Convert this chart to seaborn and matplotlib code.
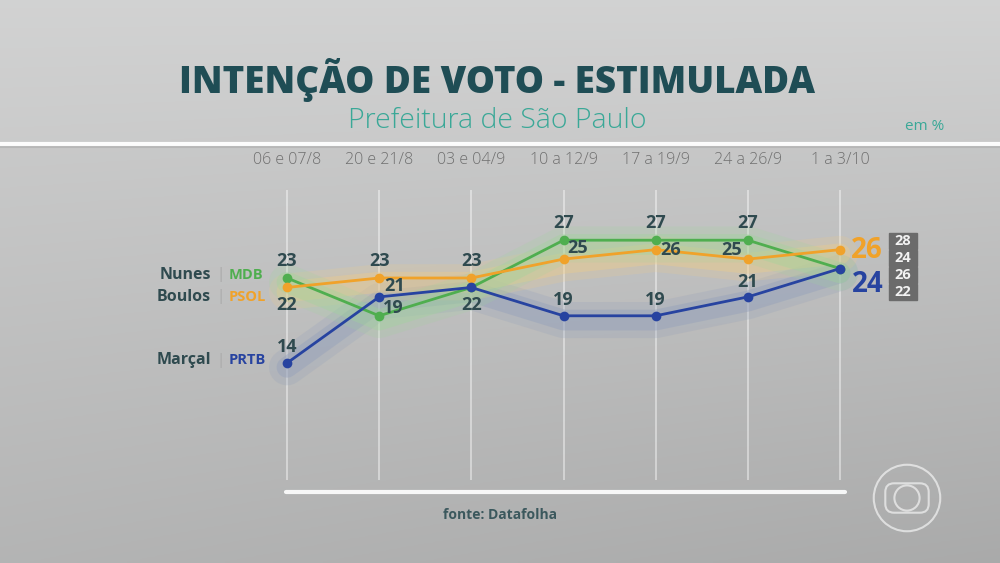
import numpy as np
import pandas as pd
import matplotlib
matplotlib.use("Agg")
import matplotlib.pyplot as plt
from matplotlib.patches import Circle, FancyBboxPatch, Rectangle
import seaborn as sns

# ---------------- data ----------------
periods = ["06 e 07/8", "20 e 21/8", "03 e 04/9", "10 a 12/9", "17 a 19/9", "24 a 26/9", "1 a 3/10"]
nunes = [23, 19, 22, 27, 27, 27, 24]
boulos = [22, 23, 23, 25, 26, 25, 26]
marcal = [14, 21, 22, 19, 19, 21, 24]
candidates = ["Nunes", "Boulos", "Marçal"]
parties = ["MDB", "PSOL", "PRTB"]
boulos_margin = [28, 24]
marcal_margin = [26, 22]

# ---------------- style ----------------
C_GREEN = "#4fae4f"
C_ORANGE = "#f0a22a"
C_BLUE = "#2743a0"
C_TXT = "#2f4a4f"
C_TEAL = "#3aa897"
C_TITLE = "#1f4d55"
FONT = "Open Sans"

sns.set_theme(style="white")
plt.rcParams["font.family"] = [FONT, "DejaVu Sans"]

W, H = 1000, 563
fig = plt.figure(figsize=(W / 100, H / 100), dpi=100)

# background gradient
bg = fig.add_axes([0, 0, 1, 1], zorder=0)
yy = np.linspace(0, 1, 200)[:, None]
xx = np.linspace(0, 1, 300)[None, :]
g = 0.815 - 0.11 * yy - 0.04 * xx * yy
img = np.dstack([g, g + 0.002, g + 0.002])
bg.imshow(np.clip(img, 0, 1), aspect="auto", extent=[0, 1, 0, 1], origin="upper")
bg.axis("off")
bg.add_patch(Rectangle((0, 1 - 143 / H), 1, 143 / H, color="white", alpha=0.05, lw=0))
bg.plot([0, 1], [1 - 144 / H, 1 - 144 / H], color="white", lw=3, alpha=0.95)
bg.plot([0, 1], [1 - 147 / H, 1 - 147 / H], color="#9a9a9a", lw=1.5, alpha=0.35)
bg.set_xlim(0, 1)
bg.set_ylim(0, 1)

# main axes mapped to pixel grid
ax = fig.add_axes([0, 0, 1, 1], zorder=1)
ax.patch.set_alpha(0)
x0px, dxpx = 287, (840 - 287) / 6
y23px, dypx = 278, 9.45
XL = (-x0px / dxpx, (W - x0px) / dxpx)
YL = (23 - (H - y23px) / dypx, 23 + y23px / dypx)

n = len(periods)
xi = np.arange(n)

# vertical guide lines
ax.vlines(xi, 23 - (480 - y23px) / dypx, 23 + (y23px - 190) / dypx, color="white", lw=1.2, alpha=0.5, zorder=1)
# baseline
ax.plot([-0.01, 6.05], [23 - (492 - y23px) / dypx] * 2, color="white", lw=3, alpha=0.9, zorder=1)

# soft glow bands behind lines
halo = {"Nunes": ("#9fd69a", 0.35), "Boulos": ("#f3cd85", 0.35), "Marçal": ("#95a1ba", 0.45)}
series = {"Nunes": nunes, "Boulos": boulos, "Marçal": marcal}
shift = 0.45
for c in ["Marçal", "Boulos", "Nunes"]:
    col, a = halo[c]
    sv = np.array(series[c]) - shift
    ax.plot(xi, sv, color=col, alpha=a * 0.55, lw=26, solid_capstyle="round",
            solid_joinstyle="round", zorder=2)
    ax.plot(xi, sv, color=col, alpha=a, lw=15, solid_capstyle="round",
            solid_joinstyle="round", zorder=2)

df = pd.DataFrame({
    "x": np.tile(xi, 3),
    "v": nunes + boulos + marcal,
    "cand": np.repeat(candidates, n),
})
palette = {"Nunes": C_GREEN, "Boulos": C_ORANGE, "Marçal": C_BLUE}
for c in ["Nunes", "Boulos", "Marçal"]:
    sns.lineplot(data=df[df.cand == c], x="x", y="v", color=palette[c], marker="o",
                 markersize=7, markeredgewidth=0, lw=2, legend=False, ax=ax, zorder=3)
ax.set_xlim(*XL)
ax.set_ylim(*YL)
ax.axis("off")

# value labels (offsets in pixels, None = no label)
offs = {
    "Nunes": [(0, 17), (14, 8), (0, -18), (0, 17), (0, 17), (0, 17), None],
    "Boulos": [(0, -18), (0, 17), (0, 17), (14, 11), (15, 0), (-16, 9), None],
    "Marçal": [(0, 16), (15, 11), None, (0, 16), (0, 16), (0, 15), None],
}
for c in candidates:
    for i, o in enumerate(offs[c]):
        if o is None:
            continue
        ax.annotate(str(series[c][i]), (i, series[c][i]), xytext=o, textcoords="offset pixels",
                    ha="center", va="center", fontsize=13, color=C_TXT, fontweight="bold", zorder=5)
ax.annotate(str(boulos[-1]), (n - 1, boulos[-1]), xytext=(27, -1), textcoords="offset pixels",
            ha="center", va="center", fontsize=20, color=C_ORANGE, fontweight="bold", zorder=5)
ax.annotate(str(marcal[-1]), (n - 1, marcal[-1]), xytext=(28, -16), textcoords="offset pixels",
            ha="center", va="center", fontsize=20, color=C_BLUE, fontweight="bold", zorder=5)

def fx(x):
    return x / W

def fy(y):
    return 1 - y / H

# margin boxes
for vals, ytop in [(boulos_margin, 233), (marcal_margin, 267)]:
    for k, v in enumerate(vals):
        yt = ytop + k * 16.5
        fig.patches.append(Rectangle((fx(889), fy(yt + 16)), 28 / W, 16 / H, transform=fig.transFigure,
                                     color="#6b6b6b", zorder=4))
        fig.text(fx(903), fy(yt + 8), str(v), ha="center", va="center", color="#f2f2f2",
                 fontsize=10.5, fontweight="bold", zorder=6)

# x tick labels (dates)
for i, p in enumerate(periods):
    ax.annotate(p, (i, 0), xycoords=("data", "figure fraction"), xytext=(0, H - 160),
                textcoords="offset pixels", ha="center", va="center", fontsize=11.5,
                color="#6f6f6f", fontweight="light")

# candidate labels
for c, p, yp, pc in zip(candidates, parties, [275, 297, 360], [C_GREEN, C_ORANGE, C_BLUE]):
    fig.text(fx(211), fy(yp), c, ha="right", va="center", fontsize=11.5, color=C_TXT, fontweight="bold")
    fig.text(fx(220), fy(yp), "|", ha="center", va="center", fontsize=11, color="#a9a9a9")
    fig.text(fx(229), fy(yp), p, ha="left", va="center", fontsize=10.5, color=pc, fontweight="bold")

# titles
fig.text(fx(497), fy(80), "INTENÇÃO DE VOTO - ESTIMULADA", ha="center", va="center",
         fontsize=26.5, color=C_TITLE, fontweight="heavy")
fig.text(fx(497), fy(121), "Prefeitura de São Paulo", ha="center", va="center",
         fontsize=20.5, color=C_TEAL, fontweight="light")
fig.text(fx(925), fy(126), "em %", ha="center", va="center", fontsize=11, color=C_TEAL)
fig.text(fx(500), fy(515), "fonte: Datafolha", ha="center", va="center", fontsize=10,
         color="#3b585d", fontweight="bold")

# broadcaster logo
lg = fig.add_axes([fx(872), fy(533), 70 / W, 70 / H], zorder=2)
lg.set_xlim(-1, 1)
lg.set_ylim(-1, 1)
lg.axis("off")
lg.add_patch(Circle((0, 0), 0.95, fill=False, ec="white", lw=1.5, alpha=0.6))
lg.add_patch(FancyBboxPatch((-0.62, -0.42), 1.24, 0.84, boxstyle="round,pad=0,rounding_size=0.25",
                            fill=False, ec="white", lw=1.5, alpha=0.6))
lg.add_patch(Circle((0, 0), 0.36, fill=False, ec="white", lw=1.5, alpha=0.6))

fig.savefig("out.png", dpi=100)
